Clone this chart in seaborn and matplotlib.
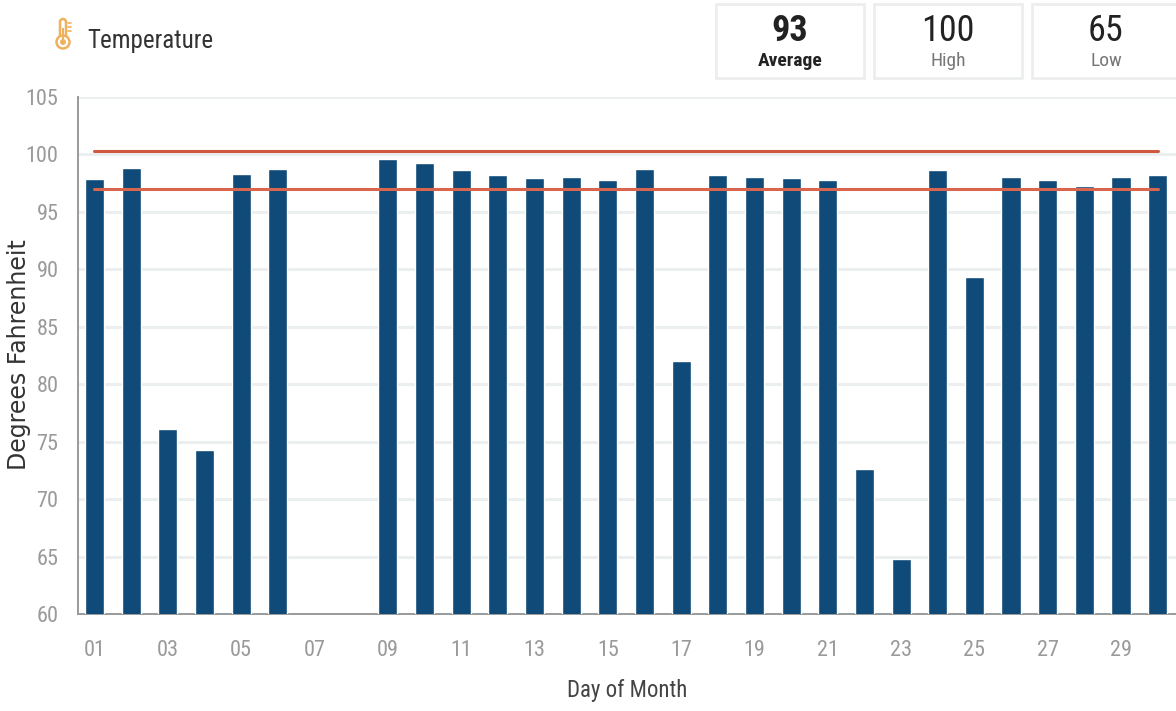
import matplotlib
matplotlib.use('Agg')
import matplotlib.pyplot as plt
from matplotlib.patches import Rectangle, Circle, FancyBboxPatch
import numpy as np
import pandas as pd
import seaborn as sns

days = ['%02d' % d for d in range(1, 31)]
temps = [97.8, 98.8, 76.1, 74.3, 98.3, 98.7, np.nan, np.nan, 99.6, 99.2,
         98.6, 98.2, 97.9, 98.0, 97.7, 98.7, 82.0, 98.2, 98.0, 97.9,
         97.7, 72.6, 64.8, 98.6, 89.3, 98.0, 97.7, 97.2, 98.0, 98.2]
upper_limit = [100.3] * 30
lower_limit = [97.0] * 30
y_ticks = [60, 65, 70, 75, 80, 85, 90, 95, 100, 105]
card_values = ['93', '100', '65']
card_labels = ['Average', 'High', 'Low']

W, H = 1176, 711
narrow = ['Roboto Condensed', 'Roboto', 'DejaVu Sans']

sns.set_theme(style='white')
plt.rcParams['font.family'] = ['Roboto', 'DejaVu Sans']

df = pd.DataFrame({'day': days, 'temp': temps, 'upper': upper_limit, 'lower': lower_limit})

fig = plt.figure(figsize=(W / 100, H / 100), dpi=100, facecolor='white')

# overlay in pixel coords for the header
top = fig.add_axes([0, 0, 1, 1])
top.set_xlim(0, W)
top.set_ylim(H, 0)
top.axis('off')

ax = fig.add_axes([78 / W, (H - 614) / H, (W - 78) / W, (614 - 96.5) / H])
sns.barplot(data=df, x='day', y='temp', color='#0f4a78', saturation=1, width=0.52, ax=ax, zorder=3)
sns.lineplot(data=df, x='day', y='upper', color='#d0583f', linewidth=2.2, ax=ax, zorder=4)
sns.lineplot(data=df, x='day', y='lower', color='#d9654e', linewidth=2.2, ax=ax, zorder=4)

ax.set_xlim(-0.45, 29.5)
ax.set_ylim(60, 105)
ax.set_yticks(y_ticks)
ax.set_xticks(range(0, 30, 2))
ax.set_xticklabels(days[::2])
ax.patch.set_alpha(0)
ax.grid(axis='y', color='#ecefef', linewidth=2.2, zorder=0)
ax.set_axisbelow(True)
for s in ['top', 'right']:
    ax.spines[s].set_visible(False)
for s in ['left', 'bottom']:
    ax.spines[s].set_color('#9a9a9a')
    ax.spines[s].set_linewidth(1.4)
ax.tick_params(axis='both', length=0, labelcolor='#9a9a9a')
ax.tick_params(axis='x', pad=19)
ax.tick_params(axis='y', pad=14)
for lab in ax.get_xticklabels() + ax.get_yticklabels():
    lab.set_fontfamily(narrow)
    lab.set_fontsize(16)

ax.set_xlabel('')
ax.set_ylabel('')
top.text(627, 690, 'Day of Month', family=narrow, fontsize=16.5, color='#444444', ha='center', va='center')
top.text(19, 355, 'Degrees Fahrenheit', family='DejaVu Sans', fontsize=17, color='#333333',
         rotation=90, ha='center', va='center')

# header: icon, title, cards
orange = '#eeb25f'
top.add_patch(FancyBboxPatch((60, 19), 6, 22, boxstyle='round,pad=0,rounding_size=3',
                             fc='white', ec=orange, lw=1.8))
top.add_patch(Circle((63, 42), 6.5, fc='white', ec=orange, lw=1.8))
top.add_patch(Circle((63, 42), 3, fc=orange, ec='none'))
top.add_patch(Rectangle((62, 28), 2, 12, fc=orange, ec='none'))
for yy in [23, 27, 31]:
    top.plot([68, 70.5], [yy, yy], color=orange, lw=1.2)
top.text(87, 41, 'Temperature', fontsize=18, color='#333333', va='center', ha='left', family=narrow)

for x0, val, lab, i in zip([716, 874, 1032], card_values, card_labels, range(3)):
    top.add_patch(Rectangle((x0, 4), 148, 74, fc='white', ec='#eceeee', lw=2))
    w = 'bold' if i == 0 else 'normal'
    top.text(x0 + 74, 31, val, fontsize=26, color='#222222', ha='center', va='center', fontweight=w, family=narrow)
    top.text(x0 + 74, 61, lab, fontsize=14, color='#222222' if i == 0 else '#777777', ha='center', va='center',
             fontweight=w, family=narrow)

fig.savefig('out.png', dpi=100)
